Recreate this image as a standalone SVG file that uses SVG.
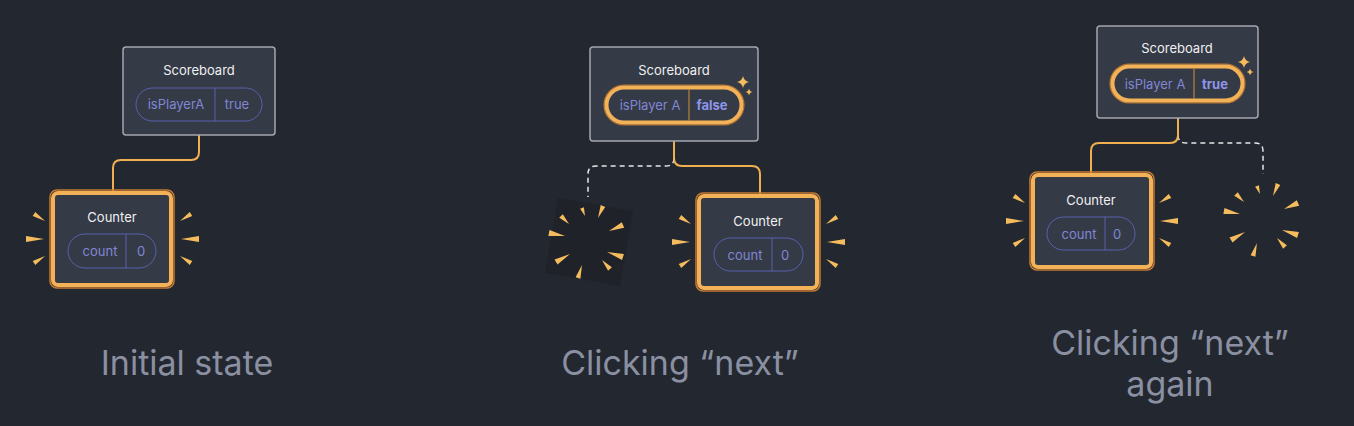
<svg xmlns="http://www.w3.org/2000/svg" xmlns:xlink="http://www.w3.org/1999/xlink" width="1354" height="426" viewBox="0 0 1354 426">
<style>
.bg{fill:#23272f}
.sb{fill:#343a46;stroke:#a4a7ae;stroke-width:1.5}
.ctr{fill:#343a46;stroke:#f3b158;stroke-width:4}
.ctro{fill:none;stroke:#c47a32;stroke-width:1.5}
.pill{fill:none;stroke:#5a60ad;stroke-width:1}
.pillo{fill:none;stroke:#f3b158;stroke-width:4}
.pilloo{fill:none;stroke:#b9742f;stroke-width:1.2}
.div{stroke:#5a60ad;stroke-width:1}
.divo{stroke:#b9823d;stroke-width:1.2}
.title{font-family:Inter,"Liberation Sans",sans-serif;font-size:13px;fill:#f0f0f2;text-anchor:middle}
.ptxt{font-family:Inter,"Liberation Sans",sans-serif;font-size:13px;fill:#8087d4;text-anchor:middle}
.pbold{font-weight:bold;fill:#8e95ea}
.cap{font-family:Inter,"Liberation Sans",sans-serif;font-size:34px;fill:#8a90a2;text-anchor:middle}
.wire{fill:none;stroke:#f0b050;stroke-width:2}
.dash{fill:none;stroke:#e8e8ea;stroke-width:1.5;stroke-dasharray:5 4}
.ray{fill:#f5bc5e}
</style>
<defs>
<g id="sparkL">
<polygon class="ray" points="-6,-18 -15.7,-27.1 -18.3,-22.9"/>
<polygon class="ray" points="-7,0 -25,-3 -25,3"/>
<polygon class="ray" points="-6,17 -18.3,21.9 -15.7,26.1"/>
</g>
<g id="sparkR">
<polygon class="ray" points="6,-18 15.7,-27.1 18.3,-22.9"/>
<polygon class="ray" points="7,0 25,-3 25,3"/>
<polygon class="ray" points="6,17 18.3,21.9 15.7,26.1"/>
</g>
<g id="poof">
<polygon class="ray" points="-1,-25 -2.1,-33.7 -5.9,-32.3"/>
<polygon class="ray" points="12,-23 19.3,-34 14.7,-36"/>
<polygon class="ray" points="-17,-17 -23.2,-26.8 -26.8,-23.2"/>
<polygon class="ray" points="23,-10 38.2,-13.2 35.8,-18.8"/>
<polygon class="ray" points="-21,-5 -36.5,-11 -37.6,-5"/>
<polygon class="ray" points="21,11 36.1,18.9 37.9,13.1"/>
<polygon class="ray" points="-16,13 -31.5,18.4 -28.5,23.6"/>
<polygon class="ray" points="16,19 22.1,29.7 25.9,26.3"/>
<polygon class="ray" points="-4,24 -10.4,36.3 -5.6,37.7"/>
</g>
<path id="star" d="M0,-6 Q1,-1 6,0 Q1,1 0,6 Q-1,1 -6,0 Q-1,-1 0,-6 Z" fill="#f5bc5e"/>
</defs>
<rect class="bg" x="0" y="0" width="1354" height="426"/>

<g id="connectors">
<path class="wire" d="M199,135 V152 Q199,160 191,160 H121 Q113,160 113,168 V191"/>
<path class="dash" d="M674,158 Q674,166 666,166 H596 Q588,166 588,174 V197"/>
<path class="wire" d="M674,141 V158 Q674,166 682,166 H752 Q760,166 760,174 V194"/>
<path class="dash" d="M1178,135 Q1178,143 1186,143 H1255 Q1263,143 1263,151 V174"/>
<path class="wire" d="M1178,118 V135 Q1178,143 1170,143 H1099 Q1091,143 1091,151 V173"/>
</g>

<!-- Panel 1 -->
<g id="scoreboard1">
<rect class="sb" x="123" y="47" width="152" height="88" rx="3"/>
<text class="title" x="199" y="75">Scoreboard</text>
<rect class="pill" x="136" y="88" width="126" height="33" rx="16.5"/>
<line class="div" x1="215" y1="88" x2="215" y2="121"/>
<text class="ptxt" x="176" y="109">isPlayerA</text>
<text class="ptxt" x="237" y="109">true</text>
</g>
<g id="counter1">
<rect class="ctro" x="50" y="190" width="124" height="98" rx="7"/>
<rect class="ctr" x="53" y="193" width="118" height="92" rx="5"/>
<text class="title" x="112" y="222">Counter</text>
<rect class="pill" x="68" y="234" width="88" height="34" rx="17"/>
<line class="div" x1="126" y1="234" x2="126" y2="268"/>
<text class="ptxt" x="100" y="256">count</text>
<text class="ptxt" x="141" y="256">0</text>
<use xlink:href="#sparkL" href="#sparkL" transform="translate(51,239)"/>
<use xlink:href="#sparkR" href="#sparkR" transform="translate(174,239)"/>
</g>
<text id="caption1" class="cap" x="187" y="375">Initial state</text>

<!-- Panel 2 -->
<g id="scoreboard2">
<rect class="sb" x="590" y="47" width="168" height="94" rx="3"/>
<text class="title" x="674" y="75">Scoreboard</text>
<rect class="pilloo" x="604" y="85" width="140" height="40" rx="20"/>
<rect class="pillo" x="606.5" y="87.5" width="135" height="35" rx="17.5"/>
<line class="divo" x1="689" y1="89" x2="689" y2="121"/>
<text class="ptxt" x="650" y="110">isPlayer A</text>
<text class="ptxt pbold" x="712" y="110">false</text>
<use xlink:href="#star" href="#star" transform="translate(743,82)"/>
<use xlink:href="#star" href="#star" transform="translate(749,92) scale(0.55)"/>
</g>
<g id="removed2">
<rect x="551" y="204" width="76" height="76" fill="#1f2229" transform="rotate(10 589 242)"/>
<use xlink:href="#poof" href="#poof" transform="translate(586,241)"/>
</g>
<g id="counter2">
<rect class="ctro" x="696" y="193" width="124" height="98" rx="7"/>
<rect class="ctr" x="699" y="196" width="118" height="92" rx="5"/>
<text class="title" x="758" y="226">Counter</text>
<rect class="pill" x="714" y="238" width="89" height="33" rx="16.5"/>
<line class="div" x1="772" y1="238" x2="772" y2="271"/>
<text class="ptxt" x="745" y="260">count</text>
<text class="ptxt" x="785" y="260">0</text>
<use xlink:href="#sparkL" href="#sparkL" transform="translate(697,242)"/>
<use xlink:href="#sparkR" href="#sparkR" transform="translate(820,242)"/>
</g>
<text id="caption2" class="cap" x="680" y="375">Clicking “next”</text>

<!-- Panel 3 -->
<g id="scoreboard3">
<rect class="sb" x="1097" y="26" width="161" height="92" rx="3"/>
<text class="title" x="1177" y="53">Scoreboard</text>
<rect class="pilloo" x="1110" y="64" width="135" height="39" rx="19.5"/>
<rect class="pillo" x="1112.5" y="66.5" width="130" height="34" rx="17"/>
<line class="divo" x1="1194" y1="68" x2="1194" y2="99"/>
<text class="ptxt" x="1155" y="89">isPlayer A</text>
<text class="ptxt pbold" x="1215" y="89">true</text>
<use xlink:href="#star" href="#star" transform="translate(1244,62)"/>
<use xlink:href="#star" href="#star" transform="translate(1250,72) scale(0.55)"/>
</g>
<g id="counter3">
<rect class="ctro" x="1030" y="172" width="124" height="98" rx="7"/>
<rect class="ctr" x="1033" y="175" width="118" height="92" rx="5"/>
<text class="title" x="1091" y="205">Counter</text>
<rect class="pill" x="1047" y="217" width="88" height="33" rx="16.5"/>
<line class="div" x1="1105" y1="217" x2="1105" y2="250"/>
<text class="ptxt" x="1079" y="239">count</text>
<text class="ptxt" x="1117" y="239">0</text>
<use xlink:href="#sparkL" href="#sparkL" transform="translate(1031,221)"/>
<use xlink:href="#sparkR" href="#sparkR" transform="translate(1153,221)"/>
</g>
<g id="removed3">
<use xlink:href="#poof" href="#poof" transform="translate(1261,219)"/>
</g>
<text id="caption3" class="cap" x="1170" y="355">Clicking “next”</text>
<text id="caption3b" class="cap" x="1170" y="396">again</text>
</svg>
